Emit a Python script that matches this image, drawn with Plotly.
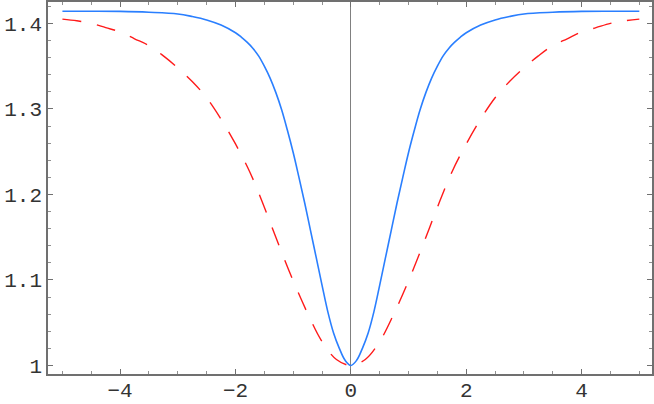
import plotly.graph_objects as graph

# values (curves are symmetric about x = 0)
blue_x = [0, 0.1, 0.2, 0.3, 0.4, 0.5, 0.6, 0.7, 0.8, 0.9, 1.0, 1.1, 1.2, 1.3, 1.4,
          1.5, 1.6, 1.7, 1.8, 1.9, 2.0, 2.25, 2.5, 2.75, 3.0, 3.5, 4.0, 4.5, 5.0]
blue_y = [1.000, 1.006, 1.020, 1.038, 1.063, 1.094, 1.126, 1.158, 1.190, 1.220, 1.249,
          1.275, 1.299, 1.319, 1.336, 1.350, 1.362, 1.371, 1.378, 1.384, 1.389, 1.398,
          1.404, 1.408, 1.411, 1.413, 1.414, 1.4142, 1.4142]

red_x = [0, 0.25, 0.5, 0.75, 1.0, 1.25, 1.5, 1.75, 2.0, 2.25, 2.5, 2.75, 3.0, 3.25,
         3.5, 3.75, 4.0, 4.25, 4.5, 4.75, 5.0]
red_y = [1.000, 1.007, 1.028, 1.061, 1.099, 1.141, 1.185, 1.226, 1.259, 1.288, 1.313,
         1.332, 1.348, 1.362, 1.374, 1.382, 1.390, 1.395, 1.400, 1.403, 1.405]

# major tick spacing (labels: -4 -2 0 2 4 and 1 1.1 1.2 1.3 1.4)
x_step, x_minor = 2, 0.5
y_step, y_minor = 0.1, 0.02


def mirror(xs, ys):
	# build full curve from the x >= 0 half
	full_x = [-v for v in reversed(xs[1:])] + xs
	full_y = list(reversed(ys[1:])) + ys
	return full_x, full_y


bx, by = mirror(blue_x, blue_y)
rx, ry = mirror(red_x, red_y)

fig = graph.Figure()
fig.add_trace(graph.Scatter(x=rx, y=ry, mode='lines', line_shape='spline',
                            line=dict(color='#ff1a1a', width=1.4, dash='19px,16px')))
fig.add_trace(graph.Scatter(x=bx, y=by, mode='lines', line_shape='spline',
                            line=dict(color='#2a7fff', width=1.6)))

frame = dict(showline=True, linecolor='#707070', linewidth=1.5, mirror='ticks',
             ticks='inside', ticklen=5, tickwidth=1, tickcolor='#707070',
             showgrid=False, automargin=False, tickmode='linear',
             tickfont=dict(family='Liberation Mono', size=21, color='#333'))

fig.update_xaxes(range=[-5.25, 5.22], tick0=0, dtick=x_step, ticklabelstandoff=-4,
                 zeroline=True, zerolinecolor='#808080', zerolinewidth=1,
                 minor=dict(dtick=x_minor, ticks='inside', ticklen=3, tickcolor='#909090'), **frame)
fig.update_yaxes(range=[0.990, 1.425], tick0=1, dtick=y_step, tickformat='.1~f',
                 zeroline=False,
                 minor=dict(dtick=y_minor, ticks='inside', ticklen=3, tickcolor='#909090'), **frame)

fig.update_layout(width=654, height=404, showlegend=False,
                  margin=dict(l=48, r=2, t=2, b=30),
                  plot_bgcolor='white', paper_bgcolor='white')

# drop the default page margin so the figure sits at the window's corner
fig.write_html('out.html', config={'displayModeBar': False},
               post_script="document.body.style.margin='0';")
